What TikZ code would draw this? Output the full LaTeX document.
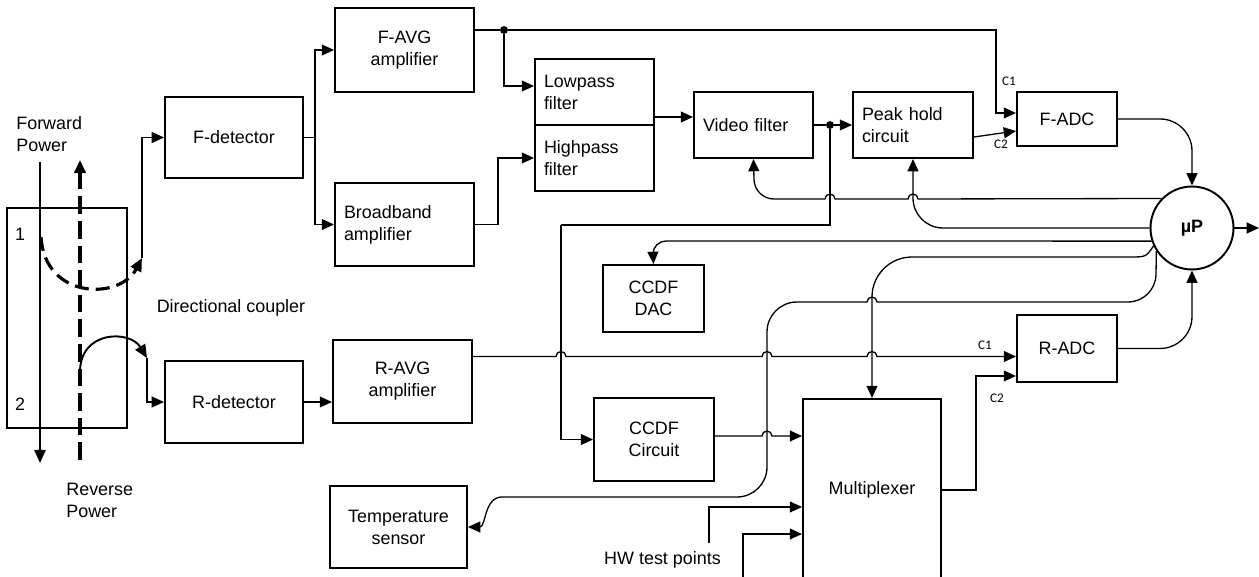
\documentclass[tikz,border=0pt]{standalone}
\usepackage{fontspec}
\setmainfont{Liberation Sans}
\newfontfamily\labelfont{Carlito}
\usetikzlibrary{arrows.meta}
\usetikzlibrary{calc}
\tikzset{box/.style = {draw, line width=1.1pt, inner sep = 0, align=center,
                       font=\fontsize{10.2}{12.6}\selectfont}}
\tikzset{lbox/.style = {box, align=left, inner xsep=0.18cm}}
\tikzset{txt/.style = {inner sep = 0, align=left, font=\fontsize{10.2}{12.6}\selectfont}}
\tikzset{clabel/.style = {inner sep = 0, font=\labelfont\fontsize{7.5}{9}\selectfont}}
\tikzset{bare/.style = {line width=0.75pt}}
\tikzset{wire/.style = {bare, -{Triangle[length=7pt, width=6.2pt]}}}
\tikzset{dot/.style = {fill, circle, inner sep = 0, minimum size = 4.5pt}}

\begin{document}
\begin{tikzpicture}[x=0.02cm, y=-0.02cm]
    \useasboundingbox (0, 0) rectangle (1259, 577);
    \clip (0, 0) rectangle (1259, 577);

    \node (coupler) at (67, 318) [box, minimum width=2.4cm, minimum height=4.4cm] {};
    \node (fwdlabel) at (16, 134) [txt, anchor=west] {Forward\\Power};
    \node (revlabel) at (66, 500.5) [txt, anchor=west] {Reverse\\Power};
    \node (port1) at (20, 234) [txt] {1};
    \node (port2) at (20, 404) [txt] {2};
    \node (couplerlabel) at (231, 308) [txt] {Directional coupler};

    \node (fdet) at (234, 137.5) [box, minimum width=2.76cm, minimum height=1.62cm] {F-detector};
    \node (rdet) at (234, 402) [box, minimum width=2.76cm, minimum height=1.64cm] {R-detector};
    \node (favg) at (404.5, 50) [box, minimum width=2.78cm, minimum height=1.68cm] {F-AVG\\amplifier};
    \node (bband) at (404.5, 224.5) [lbox, text width=2.42cm, minimum height=1.66cm] {Broadband\\amplifier};
    \node (ravg) at (402.5, 381.5) [box, minimum width=2.78cm, minimum height=1.66cm] {R-AVG\\amplifier};
    \node (lowp) at (594.5, 92) [lbox, text width=2.02cm, minimum height=1.32cm] {Lowpass\\filter};
    \node (highp) at (594.5, 158) [lbox, text width=2.02cm, minimum height=1.32cm] {Highpass\\filter};
    \node (video) at (753.5, 125) [lbox, text width=2.02cm, minimum height=1.32cm] {Video filter};
    \node (peak) at (913, 125) [lbox, text width=2.04cm, minimum height=1.32cm] {Peak hold\\circuit};
    \node (fadc) at (1067, 119) [box, minimum width=2cm, minimum height=1.08cm] {F-ADC};
    \node (radc) at (1067, 348.5) [box, minimum width=2cm, minimum height=1.34cm] {R-ADC};
    \node (up) at (1192, 228) [box, circle, minimum size=1.66cm,
                               font=\bfseries\fontsize{10.2}{12.6}\selectfont] {µP};
    \node (dac) at (653.5, 298.5) [box, minimum width=2.02cm, minimum height=1.34cm] {CCDF\\DAC};
    \node (ccdf) at (654, 439.5) [box, minimum width=2.4cm, minimum height=1.66cm] {CCDF\\Circuit};
    \node (mux) at (872, 490) [box, minimum width=2.76cm, minimum height=3.64cm] {Multiplexer};
    \node (temp) at (398.5, 527) [box, minimum width=2.74cm, minimum height=1.64cm] {Temperature\\sensor};
    \node (hwlabel) at (662.5, 560) [txt] {HW test points};

    \node (c1f) at (1009, 81) [clabel] {C1};
    \node (c2f) at (1001, 144) [clabel] {C2};
    \node (c1r) at (985, 345) [clabel] {C1};
    \node (c2r) at (997, 398) [clabel] {C2};

    \node (j1) at (504, 30) [dot] {};
    \node (j2) at (830, 125) [dot] {};

    \coordinate (fwdin) at (40, 162);
    \coordinate (fwdout) at (40, 463);
    \coordinate (revin) at (80, 460);
    \coordinate (revout) at (80, 160);
    \coordinate (tap1) at (41, 237);
    \coordinate (tap1end) at (142, 258);
    \coordinate (tap2) at (80, 372);
    \coordinate (tap2end) at (147, 358);
    \coordinate (split) at (315, 137.5);
    \coordinate (upout) at (1259, 228);
    \coordinate (hw1) at (709, 543);
    \coordinate (hw2) at (743, 580);

    \draw [line width=1.1pt, -{Triangle[length=7.5pt, width=6.5pt]}] (fwdin) -- (fwdout);
    \draw [line width=1.9pt, dash pattern=on 10pt off 4pt,
           -{Triangle[length=7.5pt, width=6.5pt]}] (revin) -- (revout);
    \draw [line width=1.8pt, dash pattern=on 8pt off 4pt,
           -{Triangle[length=7.5pt, width=6.5pt]}] (tap1) .. controls (45, 300) and (120, 300) .. (tap1end);
    \draw [line width=1.1pt, -{Triangle[length=7.5pt, width=6.5pt]}] (tap2) .. controls (80, 330) and (130, 330) .. (tap2end);
    \draw [wire] (tap1end) |- (fdet.west);
    \draw [wire] (tap2end) |- (rdet.west);

    \draw [bare] (fdet.east) -- (split);
    \draw [wire] (split) |- (favg.west);
    \draw [wire] (split) |- (bband.west);
    \draw [bare] ($(favg.east) + (0, -20)$) -- (j1);
    \draw [wire] (j1) -- (996, 30) |- ($(fadc.west) + (0, -6)$);
    \draw [wire] (j1) |- ($(lowp.west) + (0, -6)$);
    \draw [wire] (bband.east) -- (498, 224.5) |- (highp.west);
    \draw [wire] ($(lowp.east) + (0, 25)$) -- ($(video.west) + (0, -8)$);
    \draw [bare] (video.east) -- (j2);
    \draw [wire] (j2) -- (peak.west);
    \draw [wire] ($(peak.east) + (0, 12)$) -- ($(fadc.west) + (0, 12)$);
    \draw [bare] (j2) -- (830, 225) -- (561, 225);
    \draw [wire] (561, 225) |- (ccdf.west);

    \draw [wire] (fadc.east) -- (1160, 119) arc [start angle=90, end angle=0, radius=0.64cm] -- (up.north);
    \draw [wire] (radc.east) -- (1160, 348.5) arc [start angle=270, end angle=360, radius=0.64cm] -- (up.south);
    \draw [wire] (up.east) -- (upout);

    \draw [wire] (up.136) -- (918, 199) arc [start angle=0, end angle=180, radius=0.1cm]
                 -- (835, 199) arc [start angle=0, end angle=180, radius=0.1cm]
                 -- (774, 199) arc [start angle=270, end angle=180, radius=0.4cm] -- (video.south);
    \draw [wire] (up.west) -- (943, 228) arc [start angle=270, end angle=180, radius=0.6cm] -- (peak.south);
    \draw [wire] (up.198) -- (666, 241) arc [start angle=90, end angle=180, radius=0.26cm] -- (dac.north);
    \draw [wire] (up.205) .. controls (1146, 257) .. (1130, 257)
                 -- (912, 257) arc [start angle=90, end angle=180, radius=0.8cm] -- (mux.north);
    \draw [wire] (up.213) -- (1156, 274) arc [start angle=0, end angle=-90, radius=0.56cm]
                 -- (877, 302) arc [start angle=0, end angle=180, radius=0.1cm]
                 -- (797, 302) arc [start angle=90, end angle=180, radius=0.6cm]
                 -- (767, 467) arc [start angle=0, end angle=-90, radius=0.6cm]
                 -- (502, 497) .. controls (484, 497) and (486, 527) .. (temp.east);

    \draw [wire] (rdet.east) -- (ravg.west |- rdet.east);
    \draw [wire] ($(ravg.east) + (0, -25)$) -- (556, 356.5) arc [start angle=180, end angle=0, radius=0.1cm]
                 -- (762, 356.5) arc [start angle=180, end angle=0, radius=0.1cm]
                 -- (867, 356.5) arc [start angle=180, end angle=0, radius=0.1cm]
                 -- ($(radc.west) + (0, 8)$);
    \draw [wire] ($(ccdf.east) + (0, -3.5)$) -- (762, 436) arc [start angle=180, end angle=0, radius=0.1cm]
                 -- ($(mux.west) + (0, -54)$);
    \draw [wire] (mux.east) -- (976, 490) |- ($(radc.west) + (0, 27.5)$);
    \draw [wire] (hw1) |- ($(mux.west) + (0, 17)$);
    \draw [wire] (hw2) |- ($(mux.west) + (0, 44)$);
  \end{tikzpicture}
\end{document}
